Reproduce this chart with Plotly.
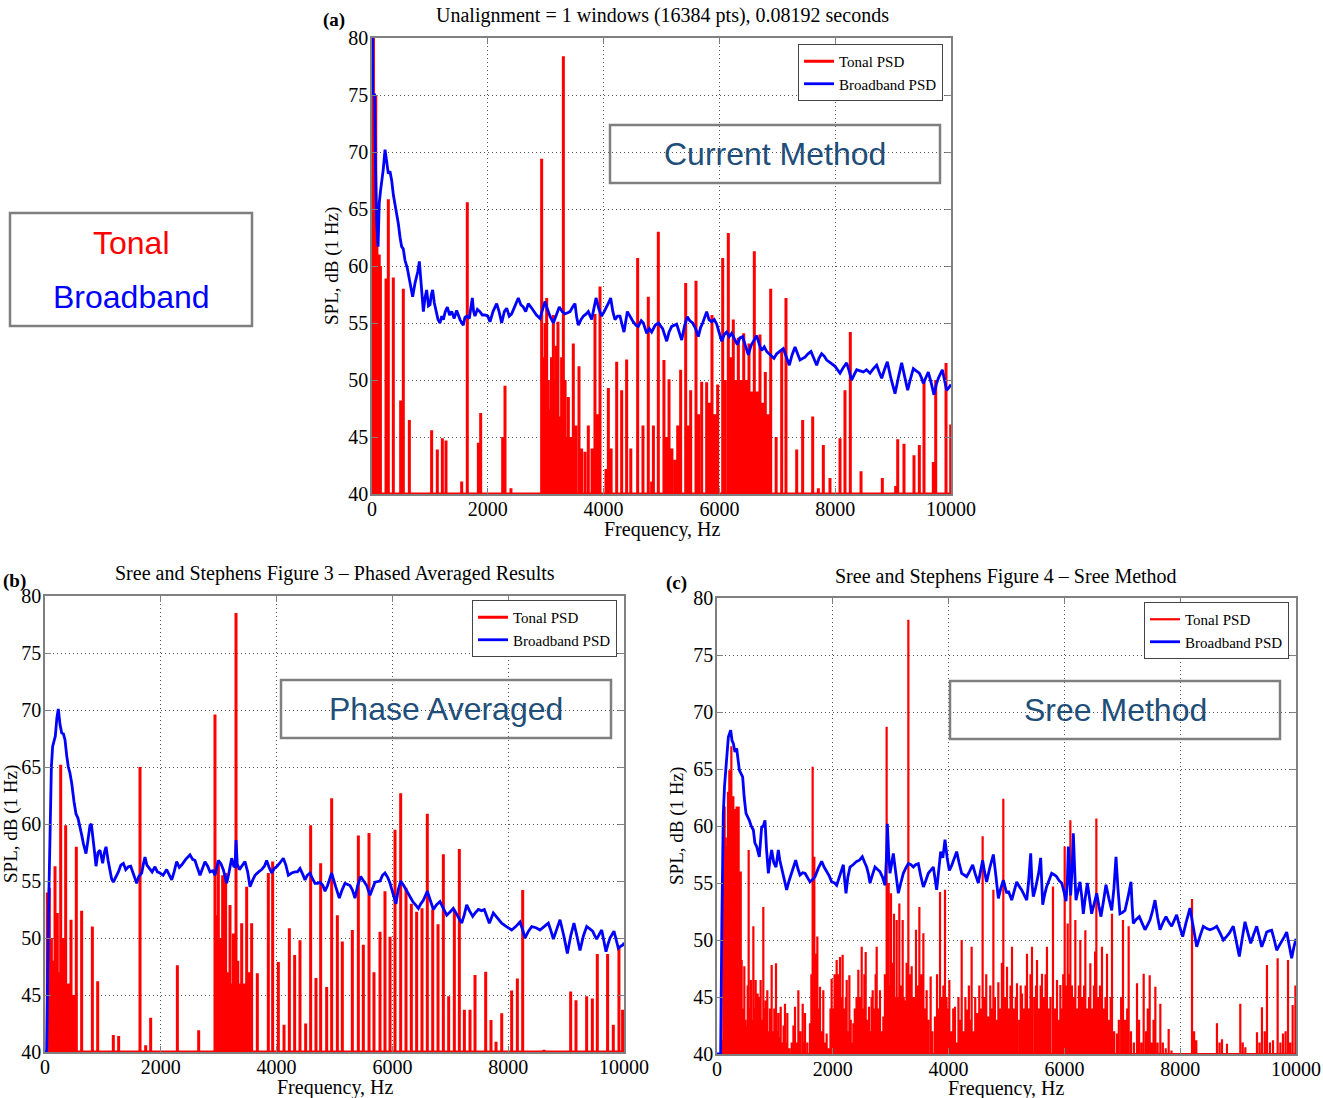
import plotly.graph_objects as go

W, H = 1323, 1098

# ---------------- data ----------------
freq_ticks = [0, 2000, 4000, 6000, 8000, 10000]
freq_tick_text = ["0", "2000", "4000", "6000", "8000", "10000"]
spl_ticks = [40, 45, 50, 55, 60, 65, 70, 75, 80]
spl_floor = 40

# (a) Current method : tonal spikes (Hz, dB) and broadband (Hz, dB)
a_tonal = [(8,80),(25,80),(45,75),(65,75),(85,62),(105,61),(125,61),(145,60),(242,58.9),(282,65.85),
           (368,59.0),(495,48.2),(541,58.0),(645,46.5),(1030,45.6),(1128,43.9),(1215,44.9),(1278,44.7),
           (1549,41.1),(1646,65.6),(1837,44.5),(1877,47.1),(2257,45.0),(2297,49.5),(2400,40.5),(2930,69.4),
           (2960,52),(2990,55),(3017,57.2),(3045,50),(3074,47.4),(3100,52),(3132,55.7),(3160,50),(3185,53),
           (3212,55.1),(3247,46.8),(3275,52),(3305,78.4),(3335,50),(3360,45),(3391,48.5),(3430,45),(3477,53.2),
           (3520,46),(3575,51.2),(3620,44),(3679,43.7),(3736,46.0),(3800,44),(3851,55.8),(3895,47),(3938,58.2),
           (4041,42.2),(4082,49.3),(4130,44),(4226,51.6),(4312,49.1),(4398,51.8),(4470,44),(4588,60.7),(4680,46),
           (4772,57.3),(4830,41.1),(4860,46),(4945,63.0),(5042,51.75),(5090,45),(5130,50.06),(5180,44),(5233,43.0),
           (5280,46),(5331,50.9),(5418,58.5),(5460,46),(5504,49.1),(5596,58.7),(5640,47),(5694,49.85),(5780,49.8),
           (5830,48),(5872,55.7),(5920,47),(5970,49.6),(6057,60.7),(6100,50),(6154,62.9),(6200,52),(6240,55.3),
           (6285,50),(6327,53.7),(6370,50),(6420,54.1),(6465,50),(6511,53.2),(6555,49),(6603,61.3),(6650,49),
           (6701,54.0),(6750,48),(6793,50.7),(6840,47),(6886,58.0),(6980,45),(7076,52.6),(7150,57.2),(7335,43.9),
           (7438,46.5),(7611,46.8),(7709,40.5),(7795,44.3),(7910,41.4),(8083,44.9),(8169,49.1),(8261,54.2),
           (8446,42.0),(8814,41.4),(9045,40.7),(9080,44.8),(9188,44.4),(9361,43.4),(9453,44.3),(9534,50.0),
           (9695,42.8),(9736,50.0),(9914,51.5),(9995,46.1)]

a_broad = [(0,80),(8,80),(12,75),(45,75),(60,69),(80,64),(105,61.7),(125,65.5),(145,66.5),(167,67.3),
           (195,68.5),(225,70.2),(255,69),(282,68.1),(310,68.3),(340,67.5),(370,66.2),(397,65.5),(425,64.5),
           (455,63.7),(485,62.5),(512,61.7),(540,61.5),(570,60.5),(610,59.8),(656,58.5),(702,57.3),(743,58.5),
           (790,59.5),(818,60.4),(850,58),(887,56.0),(915,57.2),(944,57.9),(975,56.5),(1002,56.6),(1025,57.5),
           (1048,57.9),(1075,56.8),(1105,56.1),(1140,55.3),(1174,55.0),(1205,55.6),(1232,55.3),(1265,56),
           (1301,56.4),(1340,55.7),(1376,56.0),(1420,55.4),(1462,56.1),(1520,55.3),(1577,54.8),(1605,55.5),
           (1635,55.6),(1680,55.4),(1733,57.2),(1755,56),(1779,55.6),(1820,56.2),(1865,56.0),(1905,55.7),
           (1952,55.7),(2000,55.6),(2038,55.1),(2090,56),(2153,56.7),(2195,56),(2240,55.0),(2285,56),(2326,56.3),
           (2370,55.6),(2412,55.8),(2470,56.5),(2527,57.2),(2570,56.6),(2614,56.4),(2655,56),(2700,56.7),
           (2745,56.4),(2786,56.1),(2840,55.7),(2901,55.4),(2950,56.2),(2988,56.9),(3030,56.2),(3074,55.6),
           (3132,55.0),(3180,55.7),(3235,56.4),(3285,56.0),(3333,55.8),(3380,55.9),(3420,56.0),(3465,56.4),
           (3506,56.7),(3535,55.5),(3564,54.8),(3610,55.3),(3650,55.6),(3700,55.8),(3736,56.0),(3794,55.3),
           (3830,56.2),(3869,57.2),(3920,56.2),(3967,55.6),(4010,56),(4053,56.4),(4090,56.8),(4122,57.2),
           (4160,56),(4197,55.3),(4240,55.6),(4283,55.6),(4352,54.2),(4410,56.0),(4460,55.5),(4513,55.1),
           (4560,54.8),(4600,54.7),(4650,55.2),(4686,55.0),(4744,54.1),(4790,54.5),(4830,54.2),(4890,54.8),
           (4946,55.0),(5020,54.5),(5090,53.4),(5130,54.2),(5176,54.7),(5262,54.9),(5300,54.3),(5349,53.5),
           (5400,54.8),(5446,55.55),(5490,55.2),(5538,55.0),(5590,54.5),(5636,53.8),(5675,54.6),(5711,55.0),
           (5780,56.0),(5820,55.3),(5867,55.1),(5910,55.3),(5953,54.9),(6000,54.2),(6040,53.4),(6085,54),
           (6126,54.2),(6170,53.8),(6213,54.1),(6260,53.6),(6310,53.1),(6355,53.7),(6402,53.8),(6450,53.0),
           (6500,52.2),(6545,53),(6586,53.4),(6644,53.9),(6690,53.1),(6730,52.6),(6775,52.9),(6817,52.5),
           (6880,52.2),(6943,51.9),(6990,52.3),(7035,52.5),(7104,52.75),(7150,52.1),(7208,51.3),(7255,52.2),
           (7306,52.9),(7350,52.3),(7392,51.75),(7478,52.0),(7530,52.3),(7582,52.5),(7630,51.9),(7680,51.3),
           (7720,51.9),(7766,52.3),(7810,52.1),(7853,51.75),(7920,51.5),(7997,51.2),(8040,50.9),(8083,50.6),
           (8140,51.1),(8198,51.5),(8240,50.8),(8285,50.0),(8330,50.5),(8371,50.9),(8430,50.8),(8486,50.7),
           (8540,50.9),(8601,50.6),(8660,51),(8716,51.3),(8760,50.7),(8803,50.15),(8850,50.9),(8900,51.6),
           (8960,50.2),(9033,48.8),(9090,50.2),(9148,51.5),(9200,50.3),(9252,49.1),(9300,50.1),(9349,51.0),
           (9400,50.8),(9453,50.6),(9490,50.2),(9522,49.7),(9565,50.2),(9608,50.7),(9660,49.7),(9706,48.7),
           (9745,49.6),(9781,50.15),(9850,50.9),(9890,50.0),(9925,49.1),(9960,49.3),(10000,49.6)]

# (b) Phase averaged
b_tonal = [(40,54),(75,54.4),(110,50),(140,48),(173,56.3),(213,52.2),(240,47),(271,65.2),(310,50),(357,59.9),
           (400,46),(449,51.6),(500,45),(541,58.0),(633,52.4),(818,51.0),(910,46.2),(1180,41.5),(1272,41.4),
           (1641,65.0),(1739,40.6),(1825,43.0),(2286,47.6),(2654,41.9),(2936,69.6),(2965,52),(2994,56.8),
           (3030,50),(3068,55.5),(3095,48),(3120,55.7),(3160,47),(3195,52.9),(3225,46),(3253,50.4),(3299,78.5),
           (3330,48),(3356,46),(3397,51.3),(3440,46),(3483,54.5),(3525,47),(3569,51.3),(3667,46.9),(3857,55.7),
           (3932,56.7),(4030,47.9),(4128,42.4),(4220,50.85),(4312,48.5),(4404,49.8),(4502,42.5),(4588,59.9),
           (4680,46.5),(4761,56.55),(4865,45.7),(4951,62.25),(5049,52.0),(5135,49.7),(5308,50.7),(5412,59.0),
           (5498,49.4),(5596,59.2),(5682,47.0),(5786,50.55),(5872,54.1),(5959,50.1),(6045,59.5),(6143,62.7),
           (6235,54.4),(6327,53.0),(6419,52.3),(6511,52.6),(6603,60.9),(6696,52.5),(6788,51.2),(6880,57.35),
           (6972,44.9),(7070,52.5),(7156,57.8),(7243,43.7),(7340,43.7),(7427,46.75),(7611,47.05),(7703,42.8),
           (7790,40.9),(7888,43.4),(8060,45.4),(8158,46.45),(8250,54.2),(8618,40.2),(9079,45.3),(9171,44.55),
           (9355,44.9),(9453,44.7),(9539,48.6),(9717,48.6),(9815,42.4),(9913,49.2),(9976,43.7)]

b_broad = [(0,40),(29,40),(60,52),(86,60.9),(110,65),(132,66.8),(155,67.2),(178,67.7),(205,69.3),(230,70.1),
           (260,68.7),(288,68.0),(318,67.9),(345,67.4),(375,66),(403,65.0),(430,64.5),(461,63.6),(500,62),
           (535,60.9),(570,60.5),(604,59.8),(635,59),(662,58.3),(708,57.4),(740,58.5),(777,59.9),(800,60),
           (823,59.2),(850,57.8),(881,56.3),(915,57.5),(950,57.7),(975,56.9),(996,56.55),(1025,57.5),(1054,58.0),
           (1090,56.8),(1123,56.0),(1150,55.2),(1180,54.9),(1225,55.3),(1267,55.8),(1310,56.4),(1353,56.55),
           (1395,56),(1439,56.25),(1480,56.3),(1526,55.7),(1583,54.8),(1620,55.4),(1670,55.7),(1700,56.5),
           (1727,57.1),(1760,56.4),(1802,56.1),(1850,55.8),(1900,56.25),(1940,55.8),(1986,55.7),(2040,55.5),
           (2101,56.0),(2140,55.6),(2188,55.1),(2230,55.8),(2274,56.7),(2320,56.2),(2360,56.4),(2430,56.9),
           (2504,57.3),(2550,56.9),(2591,56.8),(2630,56.2),(2677,55.5),(2720,56.1),(2763,56.7),(2810,56.3),
           (2850,55.8),(2900,55.9),(2936,55.5),(2994,56.8),(3040,56.5),(3080,56.0),(3138,54.8),(3180,55.8),
           (3224,57.0),(3260,56.3),(3282,56.25),(3300,58.6),(3320,56.5),(3356,56.0),(3400,56.3),(3454,56.7),
           (3500,55.8),(3541,54.5),(3580,55),(3627,55.5),(3690,55.8),(3742,56.0),(3790,56.3),(3828,56.8),
           (3870,56.2),(3915,55.7),(3960,56.1),(4001,56.25),(4060,56.6),(4116,57.0),(4160,56.4),(4203,55.5),
           (4260,55.7),(4318,55.8),(4360,55.8),(4404,56.1),(4450,55.6),(4491,55.1),(4530,55.5),(4577,55.7),
           (4620,55.2),(4663,54.8),(4710,54.8),(4750,54.9),(4800,54.6),(4836,54.1),(4880,54.6),(4951,55.7),
           (5020,54.5),(5083,53.5),(5130,54.2),(5181,54.8),(5268,54.6),(5310,54.2),(5354,53.5),(5400,54.6),
           (5452,55.4),(5500,55.0),(5556,54.6),(5613,53.75),(5660,54.4),(5699,54.9),(5786,55.0),(5830,55.5),
           (5872,55.7),(5920,55.3),(5959,54.8),(6010,54),(6062,53.0),(6100,54.2),(6143,55.0),(6195,54.6),
           (6247,54.1),(6300,53.7),(6351,53.2),(6400,52.9),(6448,52.6),(6490,53),(6534,53.3),(6603,54.1),
           (6650,53.3),(6707,52.5),(6760,52.9),(6822,53.2),(6880,52.6),(6938,52.0),(7000,52.3),(7052,52.6),
           (7120,52),(7197,51.3),(7240,52),(7283,52.9),(7330,52.4),(7387,51.9),(7430,52.2),(7484,52.5),
           (7540,52.4),(7587,52.5),(7630,51.9),(7674,51.3),(7743,52.2),(7810,51.8),(7887,51.3),(7970,51.0),
           (8060,50.7),(8130,51.0),(8204,51.4),(8250,50.7),(8290,50.0),(8350,50.6),(8406,51.0),(8480,50.9),
           (8549,50.7),(8620,51.0),(8693,51.3),(8740,50.6),(8780,49.9),(8840,50.8),(8895,51.6),(8960,50.2),
           (9022,48.65),(9080,50.2),(9136,51.3),(9190,50.1),(9240,48.9),(9300,50.2),(9356,51.0),(9410,50.8),
           (9459,50.6),(9495,50.2),(9528,49.9),(9570,50.3),(9615,50.7),(9650,49.8),(9689,48.8),(9720,49.4),
           (9758,50.0),(9827,50.6),(9865,49.9),(9902,49.1),(9950,49.3),(9988,49.4),(10000,49.6)]

# (c) Sree method
c_tonal = [(40,40),(70,41),(92,41.2),(110,58),(132,61.7),(150,59),(167,58.2),(190,63),(213,64.9),(230,62),
           (248,67),(265,60),(282,62.6),(305,59.9),(320,61.5),(340,61.7),(357,58),(374,61.7),(397,53.5),(410,56),
           (426,48.25),(450,44),(472,47.7),(490,43),(512,42.4),(530,46),(547,57.9),(565,44),(587,46.5),(605,43),
           (628,51.2),(645,44),(668,46.5),(685,43),(702,45.3),(720,42),(737,45),(754,46.5),(777,43),(800,52.9),
           (820,44),(841,44.7),(869,45.6),(890,42),(915,44),(944,47.8),(965,42),(990,44),(1019,47.95),(1040,42),
           (1059,43.6),(1080,41.5),(1100,44.15),(1130,41),(1150,42.5),(1174,44.4),(1195,41),(1215,43.6),
           (1250,40.5),(1290,41),(1320,42.5),(1347,44.15),(1375,41),(1405,45.6),(1440,42),(1480,44.4),(1500,41),
           (1520,43.6),(1560,41),(1606,42.7),(1630,47),(1652,65.2),(1668,52),(1681,57.3),(1696,46),(1710,48.8),
           (1733,50.3),(1755,44),(1779,45.9),(1800,42),(1836,45.6),(1860,41),(1894,41.8),(1930,40.5),(1960,44),
           (1980,46.6),(2000,44),(2030,47),(2050,45),(2067,48.25),(2090,44),(2105,47),(2124,48.5),(2150,45),
           (2170,48.7),(2200,44),(2225,45),(2240,46.5),(2265,42),(2286,46.9),(2310,43),(2330,41),(2355,42.7),
           (2380,44),(2410,45),(2441,47.4),(2470,45),(2499,49.4),(2520,44),(2545,47),(2568,48.95),(2590,43),
           (2625,44.15),(2650,42),(2670,45),(2689,45.6),(2720,44),(2740,47),(2758,49.4),(2780,44),(2800,42),
           (2815,45.6),(2845,42),(2873,43.3),(2900,47),(2930,68.7),(2950,52),(2965,55.0),(2985,46),(3005,54.1),
           (3030,48),(3057,52.3),(3080,45),(3103,51.75),(3125,45),(3149,53.2),(3175,46),(3207,51.75),(3225,45),
           (3247,44.7),(3275,48),(3305,78.1),(3335,47),(3362,47.7),(3400,45),(3437,50.9),(3465,46),(3495,52.9),
           (3530,47),(3564,50.6),(3590,44),(3621,45.6),(3650,43),(3690,46.8),(3720,42),(3765,43.3),(3800,47),
           (3830,44),(3852,54.2),(3875,45),(3910,46),(3938,54.4),(3965,45),(3990,44),(4013,46.5),(4050,42),
           (4080,44),(4110,44.15),(4140,41),(4170,45),(4200,43),(4226,50.0),(4260,42),(4290,45),(4312,43.9),
           (4350,46),(4370,43),(4398,49.4),(4430,42),(4460,45),(4496,43.6),(4530,46),(4560,44),(4588,59.1),
           (4620,45),(4650,47),(4686,43.3),(4720,46),(4750,44),(4773,54.4),(4800,45),(4830,43),(4859,46.3),
           (4890,44),(4920,48),(4945,62.4),(4975,45),(5009,47.65),(5040,44),(5070,46),(5095,49.4),(5130,44),
           (5160,45),(5181,46.2),(5220,43),(5245,46),(5268,45.3),(5300,44),(5330,46),(5354,48.8),(5390,44),
           (5415,47),(5440,49.4),(5480,45),(5510,46),(5527,48.25),(5560,44),(5590,46),(5613,47.05),(5650,45),
           (5675,47),(5699,49.4),(5730,44),(5760,45),(5803,54.7),(5835,44),(5872,46.5),(5900,43),(5930,46.05),
           (5960,44),(5980,47),(6005,58.2),(6030,46),(6057,51.45),(6080,47),(6103,60.5),(6130,46),(6160,45),
           (6189,51.75),(6220,44),(6250,46),(6275,50.0),(6310,45),(6340,46),(6362,50.85),(6400,44),(6425,45),
           (6448,47.95),(6480,44),(6510,46),(6530,49),(6552,60.65),(6580,45),(6615,46),(6649,49.4),(6680,44),
           (6710,45),(6736,48.8),(6770,43),(6800,45),(6822,52.3),(6860,42),(6908,41.8),(6940,43),(6980,45),
           (7012,51.75),(7050,43),(7085,44),(7110,51.2),(7150,42),(7200,41),(7254,46.2),(7290,43),(7330,41),
           (7369,47.05),(7410,42),(7440,44),(7473,46.9),(7510,41),(7540,43),(7571,45.9),(7610,41),(7657,44.4),
           (7700,41),(7750,40.5),(7801,42.2),(7850,40.3),(8204,53.6),(8240,42),(8278,41.2),(8635,42.7),(8680,41),
           (8722,41.3),(8808,40.9),(9038,44.4),(9080,41),(9125,40.6),(9326,41.9),(9370,41),(9412,44.1),(9460,42),
           (9499,47.8),(9550,41),(9603,41.2),(9683,48.4),(9730,41),(9775,41.8),(9820,42),(9862,48.25),(9900,41),
           (9942,44.3),(9990,46)]

c_broad = [(0,40),(63,40),(85,52),(109,61.1),(130,63.5),(155,65.2),(175,66.8),(196,67.8),(236,68.4),(260,67.5),
           (282,67.25),(310,66.5),(340,66.8),(365,65.5),(386,64.9),(415,64.6),(443,64.3),(470,62.5),(501,61.1),
           (530,60.8),(558,60.5),(590,60),(628,59.65),(655,58.5),(685,58.2),(731,57.3),(750,58.5),(771,59.9),
           (800,60),(829,60.5),(855,58),(887,55.85),(915,57),(944,57.9),(980,56.8),(1019,56.4),(1040,57.2),
           (1059,57.9),(1085,57),(1117,56.3),(1160,55.5),(1203,54.4),(1245,55.2),(1290,55.85),(1330,56.5),
           (1359,57.0),(1400,56.2),(1434,55.7),(1480,55.9),(1520,55.85),(1560,55.5),(1606,55.1),(1650,55.3),
           (1693,55.55),(1750,56.3),(1808,56.9),(1850,56.4),(1894,56.0),(1940,55.6),(1980,55.1),(2030,55.0),
           (2067,54.8),(2120,55.6),(2160,56.2),(2182,56.6),(2205,55.2),(2228,54.1),(2260,55.5),(2297,56.4),
           (2350,56.6),(2412,56.9),(2460,57),(2510,57.3),(2550,56.8),(2585,56.4),(2615,55.8),(2642,55.0),
           (2690,55.8),(2729,56.4),(2770,56.2),(2815,56.0),(2860,55.5),(2902,54.8),(2925,57),(2942,60.2),
           (2965,57.5),(2988,55.85),(3020,56.8),(3045,57.6),(3090,55.8),(3132,54.1),(3175,55),(3218,55.85),
           (3260,56.3),(3305,56.7),(3350,56.6),(3391,56.4),(3430,56.6),(3477,56.7),(3520,55.6),(3564,54.65),
           (3605,55.2),(3650,55.85),(3690,56.1),(3736,56.4),(3794,54.4),(3830,56),(3863,57.75),(3900,57.2),
           (3938,58.8),(3975,57.2),(4013,56.1),(4050,56.5),(4082,57.0),(4110,57.4),(4139,57.75),(4180,56.8),
           (4226,55.85),(4270,55.7),(4312,55.55),(4360,56),(4416,56.6),(4460,55.8),(4513,55.0),(4550,56),
           (4588,57.0),(4620,56),(4657,55.1),(4710,56.3),(4773,57.5),(4820,55.5),(4859,53.65),(4900,54.5),
           (4945,55.25),(5003,54.1),(5032,54.3),(5090,53.5),(5130,54.3),(5176,55.1),(5220,54.7),(5262,54.4),
           (5300,54),(5349,53.5),(5380,55),(5418,57.6),(5440,55),(5463,53.8),(5500,54.5),(5532,55.3),(5560,56),
           (5590,57.2),(5610,55),(5625,53.1),(5660,54),(5694,54.7),(5740,55.3),(5780,55.85),(5830,55.7),
           (5867,55.55),(5910,55.2),(5953,55.0),(5990,54.3),(6028,53.4),(6050,55),(6068,58.2),(6088,56),
           (6108,53.9),(6135,56.5),(6154,59.35),(6175,56.5),(6200,53.5),(6235,54.3),(6269,55.1),(6300,53.8),
           (6327,52.3),(6360,53.7),(6396,55.0),(6430,53.8),(6471,52.3),(6515,53.2),(6558,54.1),(6595,53.0),
           (6632,52.05),(6675,53.4),(6718,54.85),(6770,53.6),(6817,52.6),(6855,54.5),(6891,57.3),(6925,54.5),
           (6960,52.3),(7000,52.4),(7047,52.6),(7100,53.8),(7150,55.1),(7170,53),(7190,51.45),(7240,51.8),
           (7294,52.05),(7340,51.5),(7392,50.9),(7435,51.3),(7478,51.75),(7520,52.5),(7565,53.5),(7610,52),
           (7651,50.9),(7700,51.5),(7755,52.05),(7800,51.6),(7853,51.2),(7895,51.7),(7939,52.2),(7990,51.2),
           (8043,50.3),(8100,51.5),(8169,52.8),(8230,51),(8285,49.4),(8340,50.3),(8399,51.2),(8460,51),
           (8515,50.9),(8570,51),(8630,51.2),(8690,50.6),(8745,50.0),(8800,50.3),(8848,50.6),(8917,51.2),
           (8970,50),(9021,48.55),(9070,50.1),(9119,51.6),(9170,50.6),(9218,49.7),(9270,50.5),(9321,51.2),
           (9365,50.3),(9408,49.4),(9450,50),(9494,50.7),(9540,50.8),(9580,50.85),(9625,50),(9667,49.1),
           (9710,49.5),(9753,49.85),(9800,50.3),(9839,50.7),(9880,49.5),(9925,48.4),(9960,49.3),(9994,50.1),
           (10000,50.1)]

panel_titles = ["Unalignment = 1 windows (16384 pts), 0.08192 seconds",
                "Sree and Stephens Figure 3 \u2013 Phased Averaged Results",
                "Sree and Stephens Figure 4 \u2013 Sree Method"]
panel_tags = ["(a)", "(b)", "(c)"]
method_labels = ["Current Method", "Phase Averaged", "Sree Method"]
series_names = ["Tonal PSD", "Broadband PSD"]
x_label = "Frequency, Hz"
y_label = "SPL, dB (1 Hz)"

# ---------------- layout helpers ----------------
def px(x):
    return x / W

def py(y):
    return 1 - y / H

# plot boxes in pixels: left, right, top, bottom
boxes = [(372, 951, 38, 494), (45, 624, 596, 1052), (717, 1296, 598, 1054)]

SERIF = "Liberation Serif, Times New Roman, serif"
SANS = "Liberation Sans, Arial, sans-serif"
RED = "#ff0000"
BLUE = "#0000ff"

def spikes(pairs):
    xs, ys = [], []
    for f, v in pairs:
        xs += [f, f, f]
        ys += [spl_floor, v, spl_floor]
    return xs, ys

fig = go.Figure()
data_sets = [(a_tonal, a_broad), (b_tonal, b_broad), (c_tonal, c_broad)]
legend_ids = ["legend", "legend2", "legend3"]
red_widths = [3.0, 3.0, 2.2]

for i, (tonal, broad) in enumerate(data_sets):
    xa = "x" if i == 0 else f"x{i+1}"
    ya = "y" if i == 0 else f"y{i+1}"
    tx, ty = spikes(tonal)
    fig.add_trace(go.Scatter(x=tx, y=ty, mode="lines", line=dict(color=RED, width=red_widths[i]),
                             name=series_names[0], xaxis=xa, yaxis=ya, legend=legend_ids[i]))
    bx = [p[0] for p in broad]
    by = [p[1] for p in broad]
    fig.add_trace(go.Scatter(x=bx, y=by, mode="lines", line=dict(color=BLUE, width=2.8),
                             name=series_names[1], xaxis=xa, yaxis=ya, legend=legend_ids[i]))

axis_common = dict(showgrid=True, gridcolor="#555555", griddash="1px,3px", gridwidth=1,
                   showline=True, linecolor="#808080", linewidth=1.5, mirror="ticks",
                   ticks="inside", ticklen=6, tickcolor="#808080", zeroline=False, automargin=False,
                   tickfont=dict(family=SERIF, size=20, color="black"))

layout = dict(width=W, height=H, margin=dict(l=0, r=0, t=0, b=0, autoexpand=False), autosize=False,
              paper_bgcolor="white", plot_bgcolor="white", showlegend=True)

legend_pos = [(943, 44), (617, 600), (1289, 602)]
for i, (l, r, t, b) in enumerate(boxes):
    sx = "xaxis" if i == 0 else f"xaxis{i+1}"
    sy = "yaxis" if i == 0 else f"yaxis{i+1}"
    layout[sx] = dict(axis_common, domain=[px(l), px(r)], range=[0, 10000], tickvals=freq_ticks,
                      ticktext=freq_tick_text, ticklabelstandoff=-4,
                      anchor="y" if i == 0 else f"y{i+1}")
    layout[sy] = dict(axis_common, domain=[py(b), py(t)], range=[40, 80], tickvals=spl_ticks,
                      ticklabelstandoff=-2, anchor="x" if i == 0 else f"x{i+1}")
    lx, ly = legend_pos[i]
    layout[legend_ids[i]] = dict(x=px(lx), y=py(ly), xanchor="right", yanchor="top",
                                 bgcolor="white", bordercolor="#444", borderwidth=1,
                                 font=dict(family=SERIF, size=15, color="black"),
                                 tracegroupgap=0, itemwidth=30)

fig.update_layout(**layout)

ann = []
shapes = []
title_pos = [(662, 15), (335, 573), (1006, 576)]
tag_pos = [(334, 20, "center"), (1, 581, "left"), (676, 583, "center")]
xlabel_pos = [(662, 529), (335, 1087), (1006, 1088)]
ylabel_pos = [(332, 266), (11, 824), (677, 826)]
method_boxes = [(610, 125, 940, 183), (281, 680, 611, 738), (950, 681, 1280, 739)]
for i in range(3):
    tx, ty = title_pos[i]
    ann.append(dict(x=px(tx), y=py(ty), xref="paper", yref="paper", text=panel_titles[i],
                    showarrow=False, font=dict(family=SERIF, size=20, color="black"),
                    xanchor="center", yanchor="middle"))
    gx, gy, anc = tag_pos[i]
    ann.append(dict(x=px(gx), y=py(gy), xref="paper", yref="paper", text="<b>" + panel_tags[i] + "</b>",
                    showarrow=False, font=dict(family=SERIF, size=19, color="black"),
                    xanchor=anc, yanchor="middle"))
    lx, ly = xlabel_pos[i]
    ann.append(dict(x=px(lx), y=py(ly), xref="paper", yref="paper", text=x_label,
                    showarrow=False, font=dict(family=SERIF, size=20, color="black"),
                    xanchor="center", yanchor="middle"))
    vx, vy = ylabel_pos[i]
    ann.append(dict(x=px(vx), y=py(vy), xref="paper", yref="paper", text=y_label, textangle=-90,
                    showarrow=False, font=dict(family=SERIF, size=19, color="black"),
                    xanchor="center", yanchor="middle"))
    x0, y0, x1, y1 = method_boxes[i]
    shapes.append(dict(type="rect", xref="paper", yref="paper", x0=px(x0), x1=px(x1), y0=py(y1), y1=py(y0),
                       line=dict(color="#7f7f7f", width=2.5), fillcolor="rgba(0,0,0,0)", layer="above"))
    ann.append(dict(x=px((x0 + x1) / 2), y=py((y0 + y1) / 2), xref="paper", yref="paper",
                    text=method_labels[i], showarrow=False,
                    font=dict(family=SANS, size=32, color="#1f4e79"),
                    xanchor="center", yanchor="middle"))

shapes.append(dict(type="rect", xref="paper", yref="paper", x0=px(10), x1=px(252), y0=py(326), y1=py(213),
                   line=dict(color="#7f7f7f", width=2.5), fillcolor="rgba(0,0,0,0)"))
ann.append(dict(x=px(131), y=py(243), xref="paper", yref="paper", text="Tonal", showarrow=False,
                font=dict(family=SANS, size=32, color=RED), xanchor="center", yanchor="middle"))
ann.append(dict(x=px(131), y=py(297), xref="paper", yref="paper", text="Broadband", showarrow=False,
                font=dict(family=SANS, size=32, color=BLUE), xanchor="center", yanchor="middle"))

fig.update_layout(annotations=ann, shapes=shapes)
fig.write_html("out.html")
